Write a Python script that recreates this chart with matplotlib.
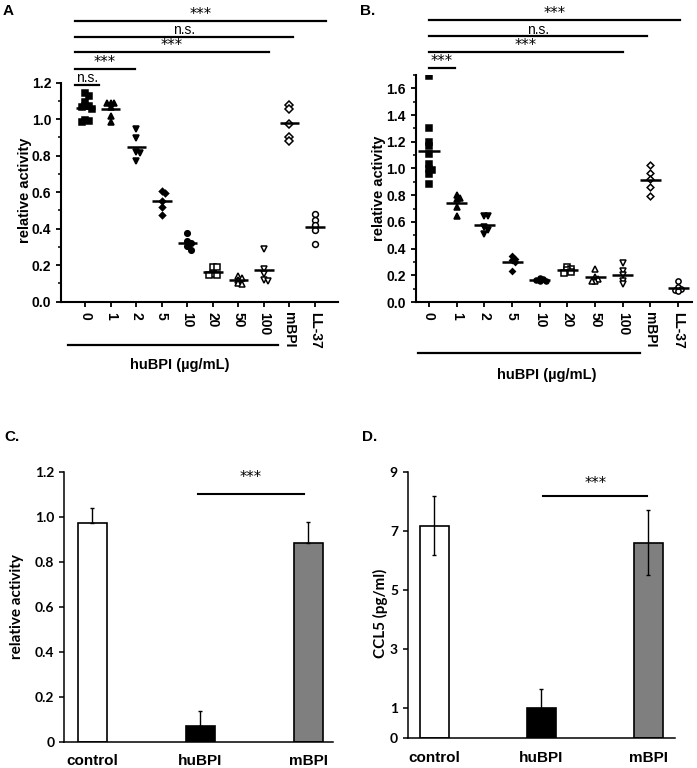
import numpy as np
import matplotlib
matplotlib.use("Agg")
import matplotlib.pyplot as plt
from matplotlib import transforms
from matplotlib.ticker import MultipleLocator

plt.rcParams['font.family'] = ['Liberation Sans', 'DejaVu Sans']

W, H = 697, 768

# ---- data -------------------------------------------------------------
groups = ["0", "1", "2", "5", "10", "20", "50", "100", "mBPI", "LL-37"]

a_vals = [
    [1.146, 1.128, 1.096, 1.074, 1.07, 1.065, 1.055, 0.997, 0.99, 0.983],
    [1.087, 1.087, 1.088, 1.065, 1.02, 0.986],
    [0.949, 0.895, 0.818, 0.815, 0.773],
    [0.609, 0.595, 0.551, 0.518, 0.477],
    [0.376, 0.333, 0.322, 0.304, 0.286],
    [0.191, 0.19, 0.151, 0.145, 0.147],
    [0.14, 0.13, 0.12, 0.10, 0.095],
    [0.29, 0.18, 0.15, 0.12, 0.115],
    [1.077, 1.055, 0.973, 0.904, 0.883],
    [0.48, 0.445, 0.42, 0.395, 0.315],
]

b_vals = [
    [1.69, 1.30, 1.20, 1.165, 1.11, 1.03, 0.995, 0.99, 0.955, 0.885],
    [0.80, 0.78, 0.775, 0.715, 0.645],
    [0.645, 0.645, 0.56, 0.54, 0.51],
    [0.345, 0.325, 0.315, 0.30, 0.23],
    [0.18, 0.175, 0.165, 0.16, 0.155],
    [0.265, 0.25, 0.24, 0.225, 0.22],
    [0.245, 0.19, 0.175, 0.16, 0.155],
    [0.29, 0.23, 0.20, 0.16, 0.135],
    [1.026, 0.964, 0.919, 0.859, 0.796],
    [0.155, 0.11, 0.10, 0.09, 0.085],
]

bar_names = ["control", "huBPI", "mBPI"]
c_vals = [0.972, 0.07, 0.885]
c_err = [0.07, 0.065, 0.092]
d_vals = [7.18, 1.03, 6.6]
d_err = [1.01, 0.64, 1.09]

# ---- styles -----------------------------------------------------------
markers = ['s', '^', 'v', 'D', 'o', 's', '^', 'v', 'D', 'o']
filled = [True] * 5 + [False] * 5
msize = [4.2, 4.8, 4.8, 3.2, 4, 4.3, 5, 5, 3.8, 4.2]
bar_colors = ['white', 'black', '#7f7f7f']


def box(l, t, r, b):
    return [l / W, 1 - b / H, (r - l) / W, (b - t) / H]


def fx(px):
    return px / W


def fy(py):
    return 1 - py / H


def swarm(ax, xc, vals, d):
    # simple deterministic swarm: shift points sideways if they overlap
    placed, offs = [], []
    steps = [0, 1, -1, 2, -2, 3, -3, 4, -4]
    for v in vals:
        y = ax.transData.transform((xc, v))[1]
        for s in steps:
            cx = s * d
            if all((cx - px) ** 2 + (y - py) ** 2 >= d ** 2 for px, py in placed):
                break
        placed.append((cx, y))
        offs.append(cx)
    unit = ax.transData.transform((1, 0))[0] - ax.transData.transform((0, 0))[0]
    return xc + np.array(offs) / unit


def scatter_panel(ax, data, scale, sig, under, ylab_xy, huxy):
    for i, vals in enumerate(data):
        xs = swarm(ax, i, vals, 3.6 * scale)
        ax.plot(xs, vals, linestyle='none', marker=markers[i],
                markersize=msize[i] * scale,
                markerfacecolor='black' if filled[i] else 'white',
                markeredgecolor='black', markeredgewidth=1.1, zorder=3)
        ax.hlines(np.mean(vals), i - 0.38, i + 0.38, color='black', lw=1.8, zorder=4)
    ax.set_xticks(range(len(groups)))
    ax.set_xticklabels(groups, rotation=270, va='top', ha='center',
                       fontsize=9.5, fontweight='bold')
    for s in ['top', 'right']:
        ax.spines[s].set_visible(False)
    for s in ['left', 'bottom']:
        ax.spines[s].set_linewidth(1.5)
    ax.tick_params(axis='both', width=1.3, length=3.5, labelsize=10)
    ax.tick_params(axis='y', which='minor', width=1.1, length=2)
    ax.tick_params(axis='x', pad=4)
    for t in ax.get_yticklabels():
        t.set_fontweight('bold')
    fig = ax.figure
    trans = transforms.blended_transform_factory(ax.transData, fig.transFigure)
    for x0, x1, txt, py in sig:
        ax.plot([x0, x1], [fy(py), fy(py)], transform=trans, color='black',
                lw=1.6, clip_on=False)
        fam = ['DejaVu Sans'] if txt == '***' else ['Liberation Sans']
        fig.text((x0 + x1) / 2, fy(py - 6.5), txt, transform=trans,
                 fontsize=10 if txt == 'n.s.' else 10.5, family=fam,
                 ha='center', va='center')
    fig.add_artist(plt.Line2D([fx(under[0]), fx(under[1])], [fy(under[2])] * 2,
                              color='black', lw=1.6))
    fig.text(fx(huxy[0]), fy(huxy[1]), "huBPI (\u00b5g/mL)", ha='center', va='center',
             fontsize=10.5, fontweight='bold')
    fig.text(fx(ylab_xy[0]), fy(ylab_xy[1]), "relative activity", rotation=90,
             ha='center', va='center', fontsize=10.5, fontweight='bold')


def bar_panel(ax, vals, err, yticks, ylim, sig, lower):
    x = np.arange(len(vals))
    ax.bar(x, vals, width=0.27, color=bar_colors, edgecolor='black', linewidth=1.2, zorder=2)
    yerr = [err, err] if lower else [np.zeros(len(err)), err]
    ax.errorbar(x, vals, yerr=yerr, fmt='none', ecolor='black', elinewidth=1,
                capsize=1.5, capthick=1, zorder=3)
    ax.set_ylim(*ylim)
    ax.set_yticks(yticks)
    ax.set_yticklabels([('%g' % v) if v == 0 or isinstance(v, int) else '%.1f' % v
                        for v in yticks], family=['Lato', 'DejaVu Sans'],
                       fontweight='bold', fontsize=10)
    ax.set_xticks(x)
    ax.set_xticklabels(bar_names, fontsize=11, fontweight='bold')
    ax.tick_params(axis='x', length=0, pad=9)
    ax.tick_params(axis='y', length=3.5, width=1.1)
    for s in ['top', 'right']:
        ax.spines[s].set_visible(False)
    for s in ['left', 'bottom']:
        ax.spines[s].set_linewidth(1.1)
    x0, x1, y, ty = sig
    ax.plot([x0, x1], [y, y], color='black', lw=1.5, clip_on=False)
    ax.text((x0 + x1) / 2, ty, '***', ha='center', va='center', fontsize=10.5,
            family=['DejaVu Sans'])


fig = plt.figure(figsize=(W / 100, H / 100), dpi=100)

# panel A
axA = fig.add_axes(box(61, 82.7, 338, 301.7))
axA.set_xlim(-0.95, 9.9)
axA.set_ylim(0, 1.2)
axA.set_yticks(np.arange(0, 1.21, 0.2))
axA.set_yticklabels(['%.1f' % v for v in np.arange(0, 1.21, 0.2)])
axA.yaxis.set_minor_locator(MultipleLocator(0.1))
sig_a = [(-0.4, 9.43, '***', 20.7), (-0.4, 8.15, 'n.s.', 36.7),
         (-0.4, 7.19, '***', 51.7), (-0.4, 1.93, '***', 69), (-0.4, 0.55, 'n.s.', 85)]
scatter_panel(axA, a_vals, 1.0, sig_a, (68, 278, 345), (25, 190), (180, 365))

# panel B
axB = fig.add_axes(box(415.7, 75, 692, 302))
axB.set_xlim(-0.48, 9.5)
axB.set_ylim(0, 1.7)
axB.set_yticks(np.arange(0, 1.61, 0.2))
axB.set_yticklabels(['%.1f' % v for v in np.arange(0, 1.61, 0.2)])
axB.yaxis.set_minor_locator(MultipleLocator(0.1))
sig_b = [(0, 9.06, '***', 20), (0, 7.87, 'n.s.', 36), (0, 7.0, '***', 51.7),
         (0, 0.94, '***', 68)]
scatter_panel(axB, b_vals, 0.9, sig_b, (418, 640, 353), (379, 188), (547, 375))

# panel C
axC = fig.add_axes(box(64, 472, 333, 741.7))
axC.set_xlim(-0.26, 2.23)
bar_panel(axC, c_vals, c_err, [0, 0.2, 0.4, 0.6, 0.8, 1.0, 1.2], (0, 1.2),
          (0.98, 1.96, 1.10, 1.175), lower=False)
fig.text(fx(17), fy(607), "relative activity", rotation=90, ha='center', va='center',
         fontsize=11, fontweight='bold', family=['Lato', 'DejaVu Sans'])

# panel D
axD = fig.add_axes(box(407.7, 471.7, 675, 738))
axD.set_xlim(-0.246, 2.25)
bar_panel(axD, d_vals, d_err, [0, 1, 3, 5, 7, 9], (0, 9),
          (1.02, 1.99, 8.19, 8.6), lower=True)
fig.text(fx(380), fy(613), "CCL5 (pg/ml)", rotation=90, ha='center', va='center',
         fontsize=11, fontweight='bold', family=['Lato', 'DejaVu Sans'])

# panel letters
fig.text(fx(3), fy(11), "A", fontsize=11, fontweight='bold', va='center')
fig.text(fx(360), fy(11), "B.", fontsize=11, fontweight='bold', va='center')
fig.text(fx(4), fy(437), "C.", fontsize=11, fontweight='bold', va='center')
fig.text(fx(362), fy(437), "D.", fontsize=11, fontweight='bold', va='center')

fig.savefig("out.png", dpi=100)
